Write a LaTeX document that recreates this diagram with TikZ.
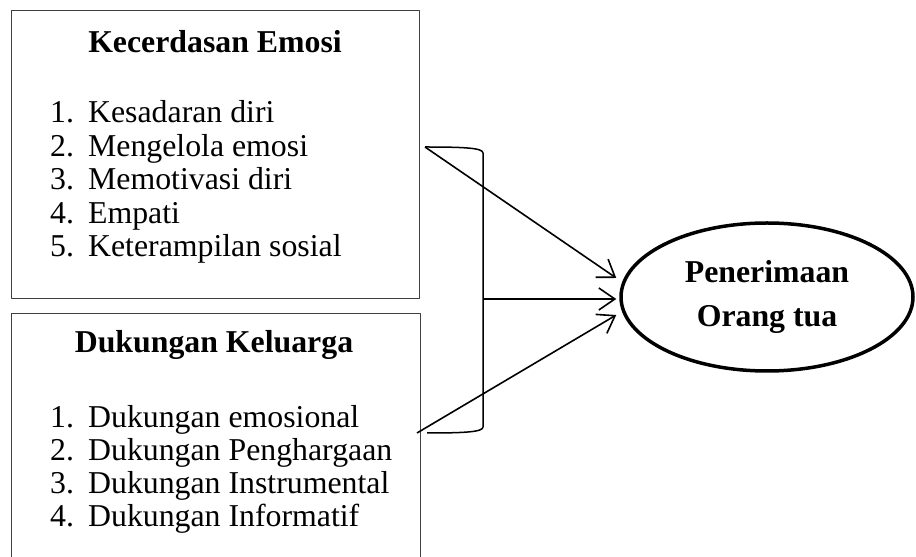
\documentclass[tikz,border=0pt]{standalone}
\usepackage{fontspec}
\setmainfont{Liberation Serif}
\usetikzlibrary{arrows.meta}
\usetikzlibrary{shapes.geometric}

\newcommand{\itemno}[2]{\makebox[38pt][l]{#1}#2}

\begin{document}
\begin{tikzpicture}[x=1pt,y=1pt,>={Straight Barb[length=16pt,width=22pt]},line join=bevel,
        kotak/.style={draw=black!75,line width=1.3pt,anchor=north west,inner sep=0},
        judul/.style={anchor=base,inner sep=0,font=\bfseries},
        butir/.style={anchor=base west,inner sep=0},
        panah/.style={color=black,line width=1.6pt,->}]
        \useasboundingbox (0,0) rectangle (916,557);
        \fontsize{31.8}{33.5}\selectfont
        %
        \node[kotak,minimum width=408,minimum height=288] (emosi) at (11,547) {};
        \node[kotak,minimum width=409,minimum height=252] (keluarga) at (11,244) {};
        \node[ellipse,draw,line width=3.5pt,minimum width=292,minimum height=148,inner sep=0,align=center] (penerimaan) at (767,260) {\textbf{Penerimaan}\\[10pt]\textbf{Orang tua}};
        %
        \node[judul] (judulemosi) at (215,504) {Kecerdasan Emosi};
        \node[butir] (e1) at (50,434) {\itemno{1.}{Kesadaran diri}};
        \node[butir] (e2) at (50,400.5) {\itemno{2.}{Mengelola emosi}};
        \node[butir] (e3) at (50,367) {\itemno{3.}{Memotivasi diri}};
        \node[butir] (e4) at (50,333.5) {\itemno{4.}{Empati}};
        \node[butir] (e5) at (50,300) {\itemno{5.}{Keterampilan sosial}};
        %
        \node[judul] (judulkeluarga) at (214,204) {Dukungan Keluarga};
        \node[butir] (k1) at (50,129) {\itemno{1.}{Dukungan emosional}};
        \node[butir] (k2) at (50,96) {\itemno{2.}{Dukungan Penghargaan}};
        \node[butir] (k3) at (50,63) {\itemno{3.}{Dukungan Instrumental}};
        \node[butir] (k4) at (50,30) {\itemno{4.}{Dukungan Informatif}};
        %
        \coordinate (brtop) at (425,410);
        \coordinate (brmid) at (483,258);
        \coordinate (brbot) at (427,124);
        \coordinate (brstart) at (417,124);
        \draw [color=black,line width=1.5pt] (brtop) .. controls (465,410) and (483,409) .. (483,404) -- (483,130) .. controls (483,125) and (465,124) .. (brbot);
        %
        \draw [panah] (brtop) to ([xshift=-3pt,yshift=19pt]penerimaan.west);
        \draw [panah] (brmid) to ([xshift=-3pt,yshift=-2pt]penerimaan.west);
        \draw [panah] (brstart) to ([xshift=-3pt,yshift=-18pt]penerimaan.west);
        %
    \end{tikzpicture}
\end{document}
